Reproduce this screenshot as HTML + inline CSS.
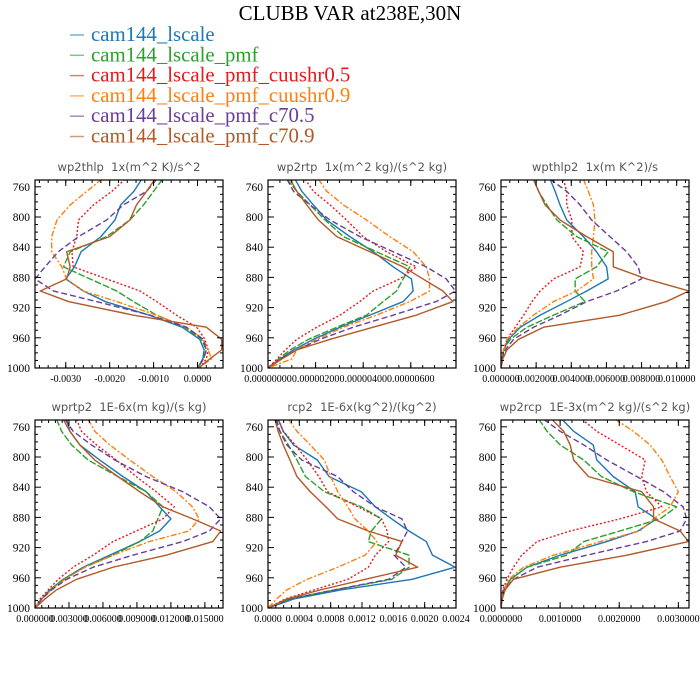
<!DOCTYPE html>
<html><head><meta charset="utf-8">
<style>
html,body{margin:0;padding:0;background:#fff;}
svg{display:block;}
text{white-space:pre;}
</style></head>
<body>
<svg id="chart" width="700" height="700" viewBox="0 0 700 700" xmlns="http://www.w3.org/2000/svg">
<rect width="700" height="700" fill="#fff"/>
<text x="350" y="20" text-anchor="middle" font-family="Liberation Serif, serif" font-size="21" fill="#000">CLUBB VAR at238E,30N</text>
<g id="legend"></g>
<g id="panels"></g>
</svg>
<script>
const levels = [750,766,784,804,826,846,866,882,898,912,930,946,962,976,988,1000];
const seriesNames = ["cam144_lscale","cam144_lscale_pmf","cam144_lscale_pmf_cuushr0.5","cam144_lscale_pmf_cuushr0.9","cam144_lscale_pmf_c70.5","cam144_lscale_pmf_c70.9"];
const seriesColors = ["#1f77b4","#2ca02c","#e31a1c","#ff7f0e","#6a3d9a","#b15928"];
const seriesDash = ["","7,2","2,2","6,2,2,2","6,3",""];

const panelTitles = ["wp2thlp  1x(m^2 K)/s^2","wp2rtp  1x(m^2 kg)/(s^2 kg)","wpthlp2  1x(m K^2)/s","wprtp2  1E-6x(m kg)/(s kg)","rcp2  1E-6x(kg^2)/(kg^2)","wp2rcp  1E-3x(m^2 kg)/(s^2 kg)"];
const panelScale = [1e-3,1e-6,1e-3,1e-3,1e-4,1e-3];
const panelXMin = [-3.7,0,0,0,0,0];
const panelXMax = [0.58,7.9,10.7,16.6,24,3.18];
const panelTicks = [[-3,-2,-1,0],[0,2,4,6],[0,2,4,6,8,10],[0,3,6,9,12,15],[0,4,8,12,16,20,24],[0,1,2,3]];
const panelTickLabels = [
 ["-0.0030","-0.0020","-0.0010","0.0000"],
 ["0.00000000","0.00000200","0.00000400","0.00000600"],
 ["0.000000","0.002000","0.004000","0.006000","0.008000","0.010000"],
 ["0.000000","0.003000","0.006000","0.009000","0.012000","0.015000"],
 ["0.0000","0.0004","0.0008","0.0012","0.0016","0.0020","0.0024"],
 ["0.0000000","0.0010000","0.0020000","0.0030000"]];
const panelMinorStep = [0.2,0.5,0.5,0.6,1,0.2];
const yTicks = [760,800,840,880,920,960,1000];

const p1 = [
 [-1.27,-1.45,-1.75,-1.88,-2.2,-2.65,-2.8,-3.0,-2.6,-2.1,-1.1,-0.35,0.05,0.15,0.12,0.0],
 [-0.8,-1.0,-1.23,-1.54,-2.07,-2.9,-3.05,-2.45,-1.84,-1.46,-0.93,-0.29,0.09,0.2,0.14,0.0],
 [-1.65,-1.95,-2.37,-2.71,-2.75,-2.86,-2.83,-2.07,-1.31,-0.93,-0.48,-0.02,0.17,0.24,0.2,0.05],
 [-2.18,-2.52,-2.9,-3.2,-3.32,-3.32,-3.09,-2.98,-2.6,-1.84,-0.93,-0.25,0.13,0.24,0.32,0.02],
 [-0.93,-1.16,-1.69,-2.07,-2.71,-3.17,-3.47,-3.7,-3.28,-2.3,-1.08,-0.25,0.13,0.2,0.13,0.0],
 [-0.97,-1.16,-1.39,-1.54,-2.0,-2.98,-2.9,-2.98,-3.58,-2.94,-1.46,0.2,0.55,0.55,0.28,0.02]];
const p2 = [
 [1.14,1.42,1.91,2.47,3.44,4.42,5.26,6.03,6.1,5.68,4.28,3.03,1.91,1.07,0.52,0],
 [0.8,1.21,1.77,2.4,3.17,4.56,5.96,5.68,5.4,4.84,4.14,2.89,1.7,0.93,0.45,0],
 [1.56,1.91,2.61,3.3,4.0,4.98,6.23,5.54,4.42,3.86,3.03,2.05,1.21,0.73,0.38,0],
 [2.12,2.47,3.17,4.14,5.12,6.1,6.65,6.79,6.79,5.96,4.56,3.17,2.05,1.21,1.0,0],
 [0.8,1.07,1.77,2.61,3.86,5.26,6.65,7.49,7.88,7.07,5.26,3.58,2.19,1.21,0.52,0],
 [0.93,1.21,1.63,2.12,2.89,4.28,5.68,6.51,7.35,7.77,6.23,4.42,2.61,1.21,0.59,0]];
const p3 = [
 [2.8,3.08,3.36,3.74,4.69,5.44,6.01,6.1,4.88,3.74,2.23,1.1,0.43,0.15,0.06,0],
 [1.85,2.14,2.61,3.18,4.31,6.1,5.44,4.22,4.22,4.78,2.99,1.47,0.53,0.15,0.06,0],
 [3.55,3.74,3.74,4.03,4.03,4.69,4.5,2.99,2.23,1.76,1.29,0.81,0.34,0.15,0.06,0],
 [4.69,4.97,5.26,5.35,5.26,5.16,5.16,5.26,4.31,2.99,1.85,1.0,0.34,0.15,0.06,0],
 [2.8,3.74,4.5,5.16,6.2,7.15,7.81,8.0,6.58,4.88,3.36,1.85,0.72,0.25,0.06,0],
 [1.85,2.14,2.51,3.36,4.88,6.39,6.39,8.28,10.7,9.41,6.77,2.42,1.0,0.34,0.1,0]];
const p4 = [
 [2.79,3.08,3.96,5.72,7.77,9.82,11.0,12.0,11.0,9.24,6.6,4.25,2.49,1.32,0.59,0],
 [1.9,2.35,3.23,4.69,7.33,9.82,11.29,10.85,10.4,9.24,6.89,4.4,2.49,1.32,0.59,0],
 [3.67,4.1,5.43,7.18,8.94,10.7,12.3,11.29,8.94,6.89,5.13,3.37,2.05,1.17,0.44,0],
 [4.69,5.28,6.6,8.36,10.4,12.46,13.9,14.5,13.6,10.1,6.89,4.4,2.64,1.47,0.59,0],
 [2.64,3.37,4.99,7.04,9.82,13.05,15.4,16.4,15.4,13.05,8.65,5.13,2.79,1.47,0.59,0],
 [2.49,3.08,3.96,5.28,7.33,9.24,11.29,13.93,16.4,15.7,11.58,6.89,3.67,1.9,0.88,0]];
const p5 = [
 [1.3,1.95,3.26,6.3,7.8,11.9,13.7,15.8,18.0,20.2,21.0,23.9,18.4,9.3,3.3,0],
 [0.87,1.52,2.6,3.7,4.8,7.2,11.9,14.5,13.2,12.8,18.0,18.0,15.8,8.5,2.8,0],
 [1.3,1.95,3.47,5.0,6.5,7.6,11.5,14.5,15.2,15.4,13.7,12.8,10.2,5.9,2.2,0],
 [2.6,3.7,5.4,7.2,8.0,8.9,10.2,11.1,12.8,13.9,12.4,8.9,5.0,2.4,1.1,0],
 [1.1,1.52,2.4,4.3,8.9,10.9,13.7,17.1,17.8,17.1,16.1,17.6,15.4,8.5,2.8,0],
 [0.87,1.3,1.95,2.8,3.7,5.4,7.4,8.9,12.8,17.1,16.3,19.1,12.4,6.7,2.4,0]];
const p6 = [
 [1.03,1.23,1.56,1.62,1.9,2.27,2.32,2.63,2.32,1.79,1.0,0.44,0.16,0.05,0.02,0],
 [0.64,0.78,1.0,1.4,1.7,2.24,2.97,2.69,2.01,1.4,1.11,0.44,0.16,0.05,0.02,0],
 [1.37,1.62,2.01,2.44,2.38,2.46,2.72,2.01,1.17,0.61,0.35,0.21,0.1,0.03,0.02,0],
 [1.93,2.24,2.52,2.72,2.86,3.0,2.86,2.58,2.35,1.68,0.89,0.38,0.13,0.05,0.02,0],
 [0.72,1.0,1.4,1.79,2.3,2.75,3.08,3.14,3.03,2.46,1.45,0.61,0.21,0.05,0.02,0],
 [0.86,1.06,1.17,1.23,1.48,2.38,2.58,2.58,3.03,3.17,2.13,1.0,0.21,0.07,0.02,0]];
const panelData = [p1,p2,p3,p4,p5,p6];

const NS = "http://www.w3.org/2000/svg";
const panelLeft = [35,268,501,35,268,501];
const panelTop = [180,180,180,420,420,420];
const PW = 188, PH = 188;
const PMIN = 751, PMAX = 1000;

function mk(tag, attrs, parent){
  const e = document.createElementNS(NS, tag);
  for (const k in attrs) e.setAttribute(k, attrs[k]);
  parent.appendChild(e);
  return e;
}

const leg = document.getElementById('legend');
seriesNames.forEach((n,i)=>{
  const y = 41 + i*20.3;
  const ln = mk('line',{x1:70,x2:84,y1:y-6,y2:y-6,stroke:seriesColors[i],'stroke-width':1.5,'stroke-opacity':0.6},leg);
  
  
  const t = mk('text',{x:91,y:y,'font-family':'Liberation Serif, serif','font-size':20.8,fill:seriesColors[i]},leg);
  t.textContent = n;
  
  
});

const panels = document.getElementById('panels');
for (let p=0;p<6;p++){
  const L = panelLeft[p], T = panelTop[p];
  const xmin = panelXMin[p], xmax = panelXMax[p];
  const xs = v => L + (v - xmin)/(xmax - xmin)*PW;
  const ys = pr => T + (pr - PMIN)/(PMAX - PMIN)*PH;
  const g = mk('g',{},panels);
  
  
  const tt = mk('text',{x:L+PW/2,y:T-9,'text-anchor':'middle','font-family':'DejaVu Sans, Liberation Sans, sans-serif','font-size':11.5,fill:'#555'},g);
  tt.textContent = panelTitles[p];
  
  

  const clipId = 'clip'+p;
  const cp = mk('clipPath',{id:clipId},g);
  mk('rect',{x:L,y:T,width:PW,height:PH},cp);
  const lines = mk('g',{'clip-path':'url(#'+clipId+')'},g);
  panelData[p].forEach((vals,s)=>{
    const pts = vals.map((v,k)=> xs(v).toFixed(2)+','+ys(levels[k]).toFixed(2)).join(' ');
    const pl = mk('polyline',{points:pts,fill:'none',stroke:seriesColors[s],'stroke-width':1.4,'stroke-linejoin':'round'},lines);
    if (seriesDash[s]) pl.setAttribute('stroke-dasharray',seriesDash[s]);
    
    
  });

  const fr = mk('rect',{x:L,y:T,width:PW,height:PH,fill:'none',stroke:'#000','stroke-width':1.2},g);
  
  

  for (let pr=760; pr<=1000; pr+=10){
    const y = ys(pr); const major = (pr%40===0);
    const len = major?6:3;
    mk('line',{x1:L,x2:L+len,y1:y,y2:y,stroke:'#000','stroke-width':1},g);
    mk('line',{x1:L+PW,x2:L+PW-len,y1:y,y2:y,stroke:'#000','stroke-width':1},g);
  }
  yTicks.forEach(pr=>{
    const t = mk('text',{x:L-5,y:ys(pr)+4,'text-anchor':'end','font-family':'Liberation Serif, serif','font-size':11.5,fill:'#000'},g);
    t.textContent = String(pr);
    
    
  });
  const ms = panelMinorStep[p];
  for (let v=Math.ceil(xmin/ms)*ms; v<=xmax+1e-9; v+=ms){
    const x = xs(v);
    mk('line',{x1:x,x2:x,y1:T+PH,y2:T+PH-3,stroke:'#000','stroke-width':1},g);
    mk('line',{x1:x,x2:x,y1:T,y2:T+3,stroke:'#000','stroke-width':1},g);
  }
  panelTicks[p].forEach((v,k)=>{
    const x = xs(v);
    mk('line',{x1:x,x2:x,y1:T+PH,y2:T+PH-6,stroke:'#000','stroke-width':1},g);
    mk('line',{x1:x,x2:x,y1:T,y2:T+6,stroke:'#000','stroke-width':1},g);
    const t = mk('text',{x:x,y:T+PH+14,'text-anchor':'middle','font-family':'Liberation Serif, serif','font-size':10,fill:'#000'},g);
    t.textContent = panelTickLabels[p][k];
    
    
  });
}
</script>
</body></html>
